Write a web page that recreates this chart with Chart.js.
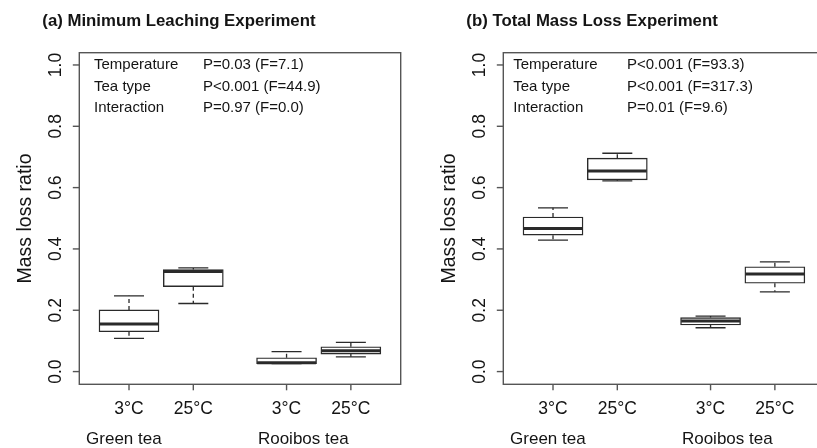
<!DOCTYPE html>
<html>
<head>
<meta charset="utf-8">
<script src="https://cdn.jsdelivr.net/npm/chart.js@4.4.1/dist/chart.umd.min.js"></script>
<style>
  html, body { margin: 0; padding: 0; background: #fff; overflow: hidden; }
  #wrap { position: relative; width: 817px; height: 448px; overflow: hidden; }
  .panel { position: absolute; top: 0; width: 424px; height: 448px; }
</style>
</head>
<body>
<div id="wrap">
  <div class="panel" style="left:0"><canvas id="leachChart" width="424" height="448"></canvas></div>
  <div class="panel" style="left:424px"><canvas id="totalChart" width="424" height="448"></canvas></div>
</div>
<script>
// Box positions and labels (R-style "at" positions)
const positions = [1, 2, 3.45, 4.45];
const tempLabels = ['3°C', '25°C', '3°C', '25°C'];
const groupLabels = ['Green tea', 'Rooibos tea'];
const groupLabelPos = [0.92, 3.71];
const yTicks = [0.0, 0.2, 0.4, 0.6, 0.8, 1.0];

// (a) Minimum leaching: whisker low, Q1, median, Q3, whisker high
const leachLow    = [0.108, 0.222, 0.026, 0.048];
const leachQ1     = [0.130, 0.277, 0.026, 0.057];
const leachMedian = [0.155, 0.326, 0.029, 0.068];
const leachQ3     = [0.201, 0.333, 0.045, 0.081];
const leachHigh   = [0.247, 0.338, 0.065, 0.095];

// (b) Total mass loss
const totalLow    = [0.429, 0.622, 0.143, 0.260];
const totalQ1     = [0.445, 0.625, 0.152, 0.288];
const totalMedian = [0.467, 0.654, 0.165, 0.318];
const totalQ3     = [0.504, 0.696, 0.176, 0.342];
const totalHigh   = [0.534, 0.712, 0.181, 0.358];

const statNames = ['Temperature', 'Tea type', 'Interaction'];
const leachStats = ['P=0.03 (F=7.1)', 'P<0.001 (F=44.9)', 'P=0.97 (F=0.0)'];
const totalStats = ['P<0.001 (F=93.3)', 'P<0.001 (F=317.3)', 'P=0.01 (F=9.6)'];
const statRows = [1.0, 0.93, 0.86];

const FONT = "'Liberation Sans', Arial, sans-serif";
const TEXT = '#141414';
const LINE = '#2a2a2a';
const BOX_W = 60;

// draws frame, axes, whiskers, medians and text using the chart scales
const boxplotDecor = {
  id: 'boxplotDecor',
  afterDatasetsDraw(chart, args, opts) {
    const ctx = chart.ctx;
    const xs = chart.scales.x, ys = chart.scales.y;
    const a = chart.chartArea;
    ctx.save();

    // whiskers + medians
    ctx.strokeStyle = LINE;
    for (let i = 0; i < positions.length; i++) {
      const x = xs.getPixelForValue(positions[i]);
      ctx.lineWidth = 1.3;
      ctx.setLineDash([4, 3]);
      ctx.beginPath();
      ctx.moveTo(x, ys.getPixelForValue(opts.q3[i]));
      ctx.lineTo(x, ys.getPixelForValue(opts.high[i]));
      ctx.moveTo(x, ys.getPixelForValue(opts.q1[i]));
      ctx.lineTo(x, ys.getPixelForValue(opts.low[i]));
      ctx.stroke();
      ctx.setLineDash([]);
      ctx.beginPath();
      [opts.high[i], opts.low[i]].forEach(v => {
        const y = ys.getPixelForValue(v);
        ctx.moveTo(x - BOX_W / 4, y);
        ctx.lineTo(x + BOX_W / 4, y);
      });
      ctx.stroke();
      ctx.lineWidth = 3;
      ctx.beginPath();
      const ym = ys.getPixelForValue(opts.median[i]);
      ctx.moveTo(x - BOX_W / 2 + 0.6, ym);
      ctx.lineTo(x + BOX_W / 2 - 0.6, ym);
      ctx.stroke();
    }

    // frame
    ctx.strokeStyle = '#555';
    ctx.lineWidth = 1.4;
    ctx.strokeRect(a.left, a.top, a.right - a.left, a.bottom - a.top);

    // y ticks
    ctx.fillStyle = TEXT;
    ctx.font = '17.5px ' + FONT;
    yTicks.forEach(v => {
      const y = ys.getPixelForValue(v);
      ctx.beginPath();
      ctx.moveTo(a.left - 6.5, y);
      ctx.lineTo(a.left, y);
      ctx.stroke();
      ctx.save();
      ctx.translate(a.left - 18, y);
      ctx.rotate(-Math.PI / 2);
      ctx.textAlign = 'center';
      ctx.textBaseline = 'alphabetic';
      ctx.fillText(v.toFixed(1), 0, 0);
      ctx.restore();
    });

    // x ticks
    positions.forEach((p, i) => {
      const x = xs.getPixelForValue(p);
      ctx.beginPath();
      ctx.moveTo(x, a.bottom);
      ctx.lineTo(x, a.bottom + 6);
      ctx.stroke();
      ctx.textAlign = 'center';
      ctx.textBaseline = 'alphabetic';
      ctx.fillText(tempLabels[i], x, a.bottom + 30);
    });
    ctx.font = '17px ' + FONT;
    groupLabels.forEach((g, i) => {
      ctx.fillText(g, xs.getPixelForValue(groupLabelPos[i]), a.bottom + 60);
    });

    // y title
    ctx.save();
    ctx.font = '19.5px ' + FONT;
    ctx.translate(30.5, (a.top + a.bottom) / 2);
    ctx.rotate(-Math.PI / 2);
    ctx.textAlign = 'center';
    ctx.fillText('Mass loss ratio', 0, 0);
    ctx.restore();

    // panel title
    ctx.font = 'bold 16.8px ' + FONT;
    ctx.textAlign = 'left';
    ctx.fillText(opts.title, a.left - 37, 26);

    // statistics
    ctx.font = '15px ' + FONT;
    ctx.textBaseline = 'middle';
    statNames.forEach((n, i) => {
      const y = ys.getPixelForValue(statRows[i]);
      ctx.fillText(n, xs.getPixelForValue(opts.nameX), y);
      ctx.fillText(opts.stats[i], xs.getPixelForValue(2.15), y);
    });
    ctx.restore();
  }
};

function makePanel(id, title, low, q1, median, q3, high, stats, nameX) {
  const ctx = document.getElementById(id).getContext('2d');
  return new Chart(ctx, {
    type: 'bar',
    data: {
      datasets: [{
        data: positions.map((p, i) => ({ x: p, y: [q1[i], q3[i]] })),
        backgroundColor: '#ffffff',
        borderColor: LINE,
        borderWidth: 1.4,
        borderSkipped: false,
        barThickness: BOX_W
      }]
    },
    options: {
      responsive: false,
      animation: false,
      events: [],
      layout: { padding: { left: 79.3, right: 23.3, top: 52.7, bottom: 63.7 } },
      scales: {
        x: { type: 'linear', offset: false, min: 0.227, max: 5.225, display: false },
        y: { type: 'linear', min: -0.0415, max: 1.04, display: false }
      },
      plugins: {
        legend: { display: false },
        tooltip: { enabled: false },
        boxplotDecor: { title, low, q1, median, q3, high, stats, nameX }
      }
    },
    plugins: [boxplotDecor]
  });
}

makePanel('leachChart', '(a) Minimum Leaching Experiment',
  leachLow, leachQ1, leachMedian, leachQ3, leachHigh, leachStats, 0.456);
makePanel('totalChart', '(b) Total Mass Loss Experiment',
  totalLow, totalQ1, totalMedian, totalQ3, totalHigh, totalStats, 0.382);
</script>
</body>
</html>
